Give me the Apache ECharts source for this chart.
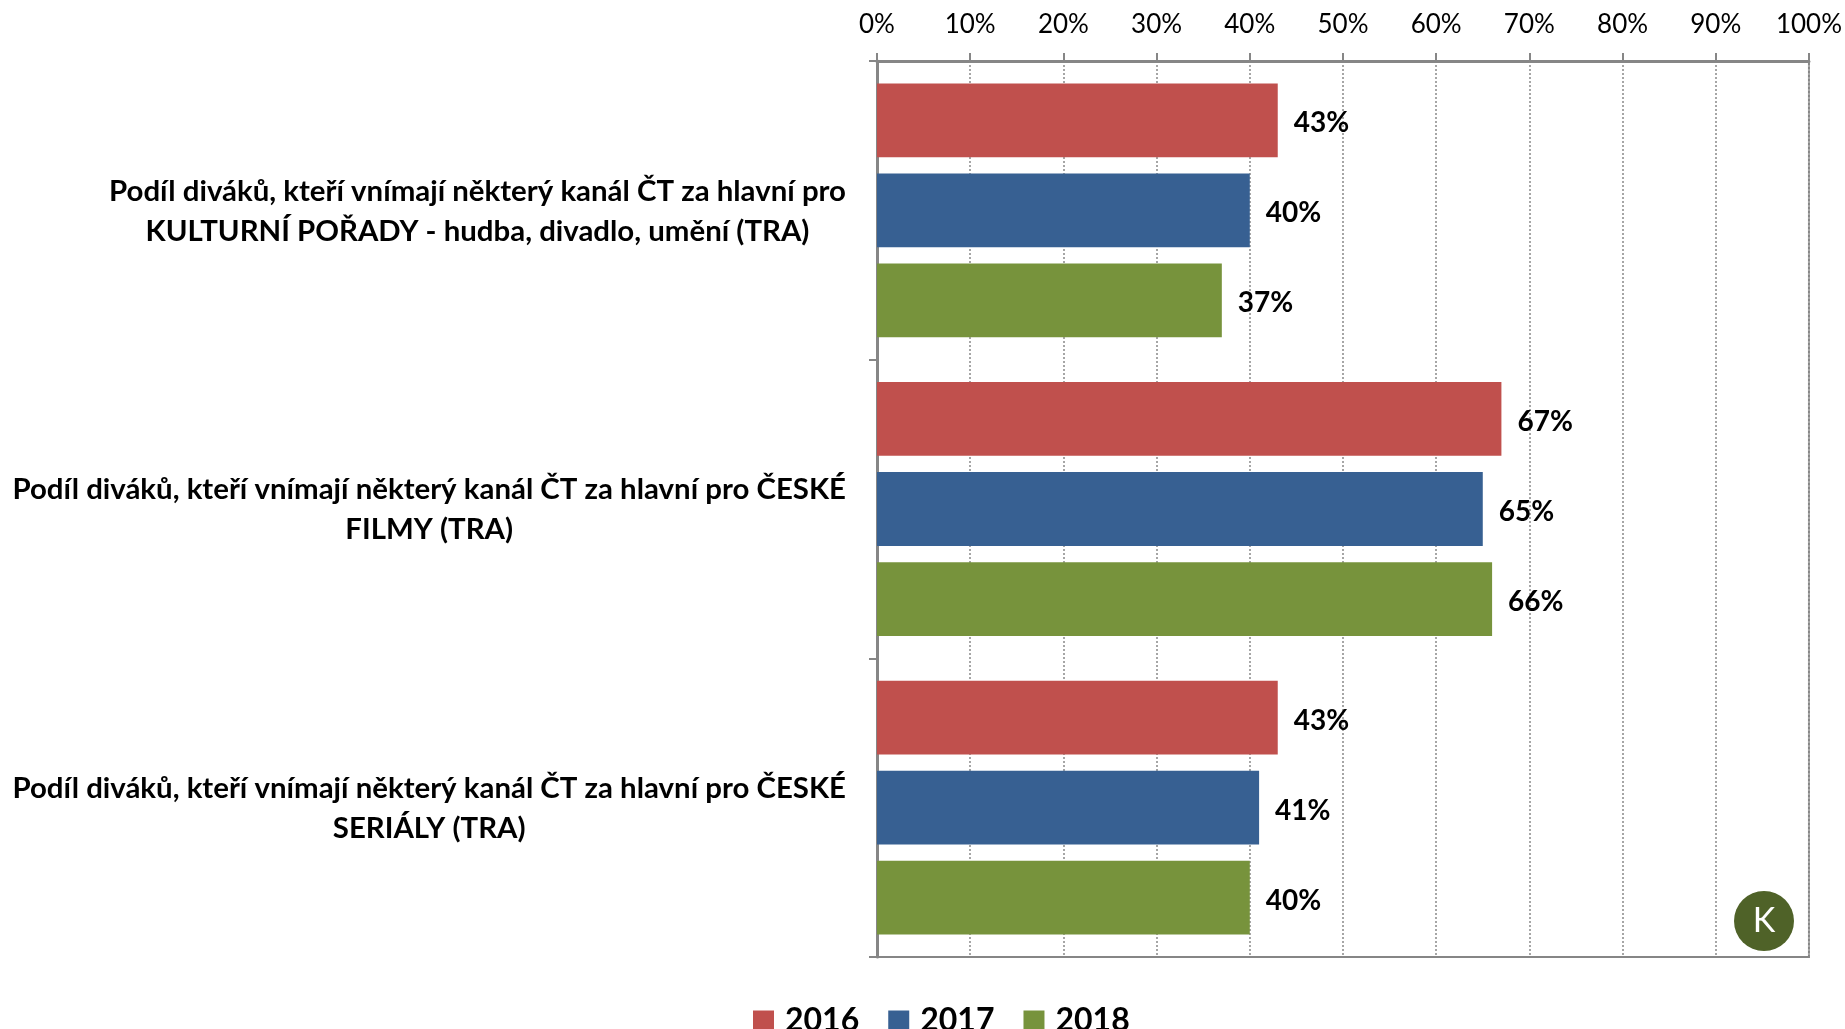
<!DOCTYPE html>
<html>
<head>
<meta charset="utf-8">
<title>Podíl diváků</title>
<script src="https://cdn.jsdelivr.net/npm/echarts@6/dist/echarts.min.js"></script>
<style>
  html, body { margin: 0; padding: 0; background: #fff; }
  #main { width: 1845px; height: 1029px; }
</style>
</head>
<body>
<div id="main"></div>
<script>
// data
var categories = [
    'Podíl diváků, kteří vnímají některý kanál ČT za hlavní pro\nKULTURNÍ POŘADY - hudba, divadlo, umění (TRA)',
    'Podíl diváků, kteří vnímají některý kanál ČT za hlavní pro ČESKÉ\nFILMY (TRA)',
    'Podíl diváků, kteří vnímají některý kanál ČT za hlavní pro ČESKÉ\nSERIÁLY (TRA)'
];
var years = ['2016', '2017', '2018'];
var values2016 = [43, 67, 43];
var values2017 = [40, 65, 41];
var values2018 = [37, 66, 40];
var colors = ['#C0504D', '#376092', '#77933C'];

var FONT = 'Lato';

var myChart = echarts.init(document.getElementById('main'));

function makeSeries(name, data, color) {
    return {
        name: name,
        type: 'bar',
        data: data,
        barGap: '22%',
        barCategoryGap: '15%',
        itemStyle: { color: color },
        label: {
            show: true,
            position: 'right',
            distance: 16,
            offset: [0, 3],
            formatter: '{c}%',
            color: '#000',
            fontFamily: FONT,
            fontWeight: 'bold',
            fontSize: 28
        }
    };
}

var option = {
    animation: false,
    backgroundColor: '#fff',
    textStyle: { fontFamily: FONT },
    grid: {
        left: 877,
        right: 36,
        top: 61,
        bottom: 72,
        show: true,
        borderColor: '#868686',
        borderWidth: 2
    },
    legend: {
        data: years,
        left: 748,
        top: 1000,
        itemWidth: 21,
        itemHeight: 21,
        itemGap: 29,
        icon: 'rect',
        textStyle: {
            fontFamily: FONT,
            fontWeight: 'bold',
            fontSize: 32,
            color: '#000',
            padding: [0, 0, 0, 6]
        }
    },
    xAxis: {
        type: 'value',
        position: 'top',
        min: 0,
        max: 100,
        interval: 10,
        axisLine: { show: true, lineStyle: { color: '#868686', width: 3 } },
        axisTick: { show: true, length: 8, lineStyle: { color: '#868686', width: 2 } },
        axisLabel: {
            formatter: '{value}%',
            margin: 23,
            color: '#000',
            fontFamily: FONT,
            fontSize: 26
        },
        splitLine: {
            show: true,
            lineStyle: { color: '#a6a6a6', type: [2, 2], width: 2 }
        }
    },
    yAxis: {
        type: 'category',
        data: categories,
        inverse: true,
        axisLine: { show: true, lineStyle: { color: '#868686', width: 3 } },
        axisTick: { show: true, length: 8, lineStyle: { color: '#868686', width: 2 } },
        axisLabel: {
            margin: 31,
            formatter: function (v) {
                return v.split('\n').map(function (s) { return '{c|' + s + '}'; }).join('\n');
            },
            rich: {
                c: {
                    align: 'center',
                    fontFamily: FONT,
                    fontWeight: 'bold',
                    fontSize: 29.4,
                    lineHeight: 40,
                    color: '#000',
                    padding: [2, 0, 0, 0]
                }
            }
        }
    },
    series: [
        makeSeries(years[0], values2016, colors[0]),
        makeSeries(years[1], values2017, colors[1]),
        makeSeries(years[2], values2018, colors[2])
    ],
    graphic: [
        {
            type: 'group',
            left: 1734,
            top: 891,
            children: [
                { type: 'circle', shape: { cx: 30, cy: 30, r: 30 }, style: { fill: '#4F6228' } },
                {
                    type: 'text',
                    x: 30, y: 30,
                    style: {
                        text: 'K', fill: '#fff', fontFamily: FONT, fontSize: 34,
                        align: 'center', verticalAlign: 'middle'
                    }
                }
            ]
        }
    ]
};

myChart.setOption(option);
</script>
</body>
</html>
